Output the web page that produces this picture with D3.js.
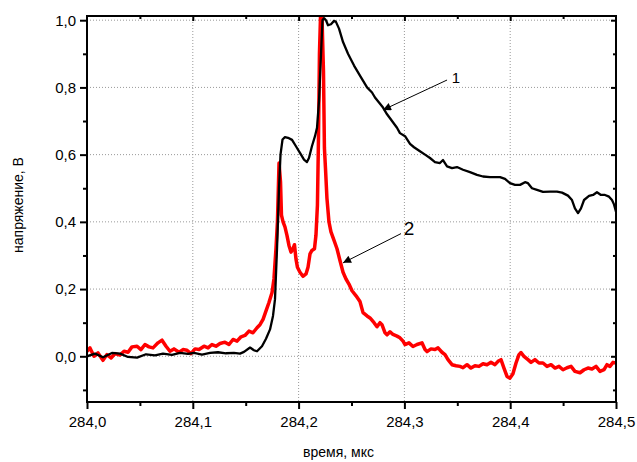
<!DOCTYPE html>
<html>
<head>
<meta charset="utf-8">
<script src="https://cdn.jsdelivr.net/npm/d3@7/dist/d3.min.js"></script>
<style>
    body { margin: 0; background: #fff; }
    svg text { font-family: "Liberation Sans", Arial, sans-serif; fill: #000; }
</style>
</head>
<body>
<svg id="chart"></svg>
<script>
// curve 1 (black): time, mks / voltage, V
const time1 = [
    284.0000, 284.0076, 284.0151, 284.0236, 284.0312, 284.0388, 284.0473, 284.0558,
    284.0643, 284.0718, 284.0803, 284.0879, 284.0955, 284.1011, 284.1087, 284.1163,
    284.1238, 284.1314, 284.1389, 284.1446, 284.1484, 284.1541, 284.1578, 284.1607,
    284.1654, 284.1692, 284.1730, 284.1758, 284.1777, 284.1796, 284.1815, 284.1829,
    284.1848, 284.1871, 284.1900, 284.1938, 284.1975, 284.2013, 284.2051, 284.2079,
    284.2098, 284.2126, 284.2155, 284.2174, 284.2193, 284.2212, 284.2226, 284.2240,
    284.2259, 284.2278, 284.2306, 284.2335, 284.2353, 284.2382, 284.2420, 284.2467,
    284.2524, 284.2580, 284.2647, 284.2694, 284.2722, 284.2760, 284.2798, 284.2836,
    284.2883, 284.2930, 284.2958, 284.3006, 284.3053, 284.3091, 284.3147, 284.3195,
    284.3242, 284.3289, 284.3336, 284.3365, 284.3403, 284.3450, 284.3497, 284.3554,
    284.3620, 284.3686, 284.3743, 284.3809, 284.3904, 284.3951, 284.3998, 284.4045,
    284.4093, 284.4140, 284.4168, 284.4206, 284.4253, 284.4310, 284.4376, 284.4442,
    284.4490, 284.4546, 284.4584, 284.4612, 284.4641, 284.4669, 284.4698, 284.4745,
    284.4783, 284.4820, 284.4858, 284.4896, 284.4934, 284.4962, 284.4981, 284.5000
];
const volt1 = [
    0.000, 0.008, -0.003, 0.010, 0.008, -0.002, -0.004, 0.006,
    0.003, 0.008, 0.004, 0.010, 0.007, 0.010, 0.005, 0.010,
    0.012, 0.009, 0.010, 0.008, 0.013, 0.026, 0.018, 0.015,
    0.030, 0.052, 0.080, 0.120, 0.170, 0.320, 0.500, 0.600,
    0.645, 0.652, 0.650, 0.644, 0.625, 0.605, 0.585, 0.578,
    0.590, 0.625, 0.655, 0.680, 0.760, 0.900, 1.000, 1.006,
    1.000, 0.985, 0.988, 0.998, 0.995, 0.975, 0.935, 0.900,
    0.865, 0.835, 0.800, 0.785, 0.770, 0.755, 0.740, 0.720,
    0.700, 0.680, 0.664, 0.655, 0.632, 0.622, 0.610, 0.600,
    0.590, 0.578, 0.575, 0.584, 0.565, 0.560, 0.563, 0.555,
    0.548, 0.540, 0.535, 0.533, 0.533, 0.528, 0.515, 0.510,
    0.510, 0.518, 0.515, 0.500, 0.495, 0.489, 0.490, 0.490,
    0.487, 0.478, 0.465, 0.440, 0.426, 0.440, 0.465, 0.477,
    0.480, 0.488, 0.480, 0.480, 0.475, 0.465, 0.452, 0.430
];

// curve 2 (red)
const time2 = [
    284.0000, 284.0028, 284.0066, 284.0104, 284.0151, 284.0189, 284.0227, 284.0265,
    284.0312, 284.0350, 284.0388, 284.0425, 284.0473, 284.0510, 284.0548, 284.0586,
    284.0624, 284.0671, 284.0709, 284.0747, 284.0784, 284.0822, 284.0870, 284.0907,
    284.0945, 284.0983, 284.1021, 284.1059, 284.1106, 284.1144, 284.1181, 284.1219,
    284.1257, 284.1304, 284.1342, 284.1380, 284.1418, 284.1456, 284.1493, 284.1531,
    284.1569, 284.1607, 284.1635, 284.1664, 284.1692, 284.1720, 284.1749, 284.1767,
    284.1786, 284.1800, 284.1815, 284.1829, 284.1838, 284.1853, 284.1871, 284.1890,
    284.1909, 284.1928, 284.1947, 284.1961, 284.1975, 284.1989, 284.2013, 284.2041,
    284.2070, 284.2089, 284.2108, 284.2126, 284.2150, 284.2164, 284.2178, 284.2188,
    284.2197, 284.2207, 284.2221, 284.2235, 284.2244, 284.2254, 284.2268, 284.2287,
    284.2306, 284.2335, 284.2363, 284.2391, 284.2420, 284.2448, 284.2476, 284.2505,
    284.2543, 284.2580, 284.2609, 284.2647, 284.2675, 284.2713, 284.2741, 284.2769,
    284.2788, 284.2817, 284.2836, 284.2864, 284.2892, 284.2930, 284.2958, 284.2987,
    284.3006, 284.3043, 284.3081, 284.3119, 284.3166, 284.3195, 284.3214, 284.3251,
    284.3289, 284.3318, 284.3355, 284.3384, 284.3412, 284.3450, 284.3488, 284.3526,
    284.3554, 284.3592, 284.3629, 284.3667, 284.3705, 284.3743, 284.3781, 284.3818,
    284.3856, 284.3885, 284.3913, 284.3941, 284.3970, 284.3998, 284.4026, 284.4055,
    284.4083, 284.4102, 284.4130, 284.4168, 284.4197, 284.4234, 284.4272, 284.4310,
    284.4348, 284.4386, 284.4424, 284.4461, 284.4499, 284.4537, 284.4575, 284.4612,
    284.4660, 284.4698, 284.4735, 284.4773, 284.4811, 284.4849, 284.4887, 284.4915,
    284.4943, 284.4972, 284.5000
];
const volt2 = [
    0.015, 0.025, 0.000, 0.010, -0.012, 0.005, -0.005, 0.008,
    0.004, 0.015, 0.012, 0.028, 0.030, 0.020, 0.035, 0.028,
    0.025, 0.040, 0.048, 0.030, 0.015, 0.022, 0.012, 0.020,
    0.018, 0.008, 0.022, 0.020, 0.030, 0.025, 0.035, 0.030,
    0.038, 0.042, 0.035, 0.050, 0.045, 0.058, 0.062, 0.075,
    0.070, 0.085, 0.094, 0.110, 0.135, 0.160, 0.190, 0.230,
    0.320, 0.400, 0.575, 0.520, 0.420, 0.400, 0.385, 0.360,
    0.330, 0.310, 0.320, 0.332, 0.290, 0.265, 0.250, 0.238,
    0.245, 0.265, 0.305, 0.315, 0.320, 0.360, 0.450, 0.650,
    0.900, 1.010, 1.010, 0.850, 0.620, 0.560, 0.470, 0.400,
    0.370, 0.345, 0.320, 0.285, 0.250, 0.230, 0.215, 0.195,
    0.180, 0.163, 0.130, 0.120, 0.114, 0.100, 0.088, 0.100,
    0.094, 0.070, 0.064, 0.073, 0.065, 0.060, 0.055, 0.045,
    0.035, 0.040, 0.029, 0.035, 0.040, 0.020, 0.014, 0.022,
    0.020, 0.025, 0.012, 0.005, -0.010, -0.025, -0.028, -0.030,
    -0.034, -0.025, -0.035, -0.028, -0.030, -0.022, -0.025, -0.018,
    -0.025, -0.015, -0.010, -0.035, -0.060, -0.065, -0.052, -0.020,
    0.005, 0.011, 0.000, -0.010, -0.018, -0.010, -0.020, -0.020,
    -0.030, -0.025, -0.035, -0.030, -0.040, -0.034, -0.030, -0.045,
    -0.049, -0.040, -0.035, -0.038, -0.030, -0.045, -0.040, -0.025,
    -0.030, -0.018, -0.020
];

const xTicks = [284.0, 284.1, 284.2, 284.3, 284.4, 284.5];
const xMinor = [284.05, 284.15, 284.25, 284.35, 284.45];
const yTicks = [0.0, 0.2, 0.4, 0.6, 0.8, 1.0];
const yMinor = [-0.1, 0.1, 0.3, 0.5, 0.7, 0.9];

// annotation arrows: [label, textX, textY, fromX, fromY, toX, toY]
const notes = [
    ["1", 284.3488, 0.813, 284.3403, 0.822, 284.2798, 0.733],
    ["2", 284.3043, 0.360, 284.2968, 0.365, 284.2420, 0.278]
];

const W = 637, H = 462;
const margin = { top: 16, right: 21, bottom: 60, left: 87 },
    width = W - margin.left - margin.right,
    height = H - margin.top - margin.bottom;

const svg = d3.select("#chart").attr("width", W).attr("height", H);

const x = d3.scaleLinear().domain([284.0, 284.5]).range([0, width]);
const y = d3.scaleLinear().domain([-0.136, 1.0125]).range([height, 0]);

const fmt = d => d3.format(".1f")(d).replace(".", ",");

const defs = svg.append("defs");
defs.append("clipPath").attr("id", "clip")
    .append("rect").attr("width", width).attr("height", height);
defs.append("marker")
    .attr("id", "head")
    .attr("viewBox", "0 0 10 10")
    .attr("refX", 10).attr("refY", 5)
    .attr("markerWidth", 12).attr("markerHeight", 8)
    .attr("markerUnits", "userSpaceOnUse")
    .attr("orient", "auto")
    .append("path").attr("d", "M0,0L10,5L0,10Z").attr("fill", "#000");

const g = svg.append("g")
    .attr("transform", `translate(${margin.left},${margin.top})`);

// dotted grid
g.append("g").selectAll("line")
    .data(xTicks.slice(1, -1))
    .enter().append("line")
    .attr("x1", d => x(d)).attr("x2", d => x(d))
    .attr("y1", 0).attr("y2", height)
    .attr("stroke", "#999").attr("stroke-width", 1)
    .attr("stroke-dasharray", "1,2");
g.append("g").selectAll("line")
    .data(yTicks)
    .enter().append("line")
    .attr("x1", 0).attr("x2", width)
    .attr("y1", d => y(d)).attr("y2", d => y(d))
    .attr("stroke", "#999").attr("stroke-width", 1)
    .attr("stroke-dasharray", "1,2");

// curves
const line = d3.line().x(d => x(d[0])).y(d => y(d[1]));
const plot = g.append("g").attr("clip-path", "url(#clip)");

plot.append("path")
    .datum(d3.zip(time2, volt2))
    .attr("d", line)
    .attr("fill", "none")
    .attr("stroke", "#ff0000")
    .attr("stroke-width", 3.5)
    .attr("stroke-linejoin", "round");

plot.append("path")
    .datum(d3.zip(time1, volt1))
    .attr("d", line)
    .attr("fill", "none")
    .attr("stroke", "#000")
    .attr("stroke-width", 2.3)
    .attr("stroke-linejoin", "round");

// axes
function styleAxis(sel) {
    sel.select(".domain").remove();
    sel.selectAll("line").attr("stroke", "#000").attr("stroke-width", 2);
    sel.selectAll("text").attr("font-size", 15);
}

g.append("g")
    .attr("transform", `translate(0,${height})`)
    .call(d3.axisBottom(x).tickValues(xTicks).tickFormat(fmt).tickSize(7).tickPadding(7))
    .call(styleAxis);
g.append("g")
    .attr("transform", `translate(0,${height})`)
    .call(d3.axisBottom(x).tickValues(xMinor).tickFormat("").tickSize(4))
    .call(styleAxis);
g.append("g")
    .call(d3.axisLeft(y).tickValues(yTicks).tickFormat(fmt).tickSize(7).tickPadding(4))
    .call(styleAxis);
g.append("g")
    .call(d3.axisLeft(y).tickValues(yMinor).tickFormat("").tickSize(4))
    .call(styleAxis);

// mirror axes with inward ticks
g.append("g")
    .call(d3.axisBottom(x).tickValues(xTicks.slice(1, -1)).tickFormat("").tickSize(5))
    .call(styleAxis);
g.append("g")
    .call(d3.axisBottom(x).tickValues(xMinor).tickFormat("").tickSize(3))
    .call(styleAxis);
g.append("g")
    .attr("transform", `translate(${width},0)`)
    .call(d3.axisLeft(y).tickValues(yTicks).tickFormat("").tickSize(5))
    .call(styleAxis);
g.append("g")
    .attr("transform", `translate(${width},0)`)
    .call(d3.axisLeft(y).tickValues(yMinor).tickFormat("").tickSize(3))
    .call(styleAxis);

// frame
g.append("rect")
    .attr("width", width).attr("height", height)
    .attr("fill", "none").attr("stroke", "#000").attr("stroke-width", 2);

// annotations
notes.forEach(([label, tx, ty, x1, y1, x2, y2], i) => {
    g.append("line")
        .attr("x1", x(x1)).attr("y1", y(y1))
        .attr("x2", x(x2)).attr("y2", y(y2))
        .attr("stroke", "#000").attr("stroke-width", 1)
        .attr("marker-end", "url(#head)");
    g.append("text")
        .attr("x", x(tx)).attr("y", y(ty))
        .attr("text-anchor", "middle")
        .attr("font-size", i == 0 ? 15 : 19)
        .text(label);
});

// axis titles
svg.append("text")
    .attr("x", margin.left + width / 2 - 13).attr("y", 457)
    .attr("text-anchor", "middle")
    .attr("font-size", 14)
    .text("время, мкс");
svg.append("text")
    .attr("transform", `translate(23,${margin.top + 189}) rotate(-90)`)
    .attr("text-anchor", "middle")
    .attr("font-size", 14)
    .text("напряжение, В");
</script>
</body>
</html>
